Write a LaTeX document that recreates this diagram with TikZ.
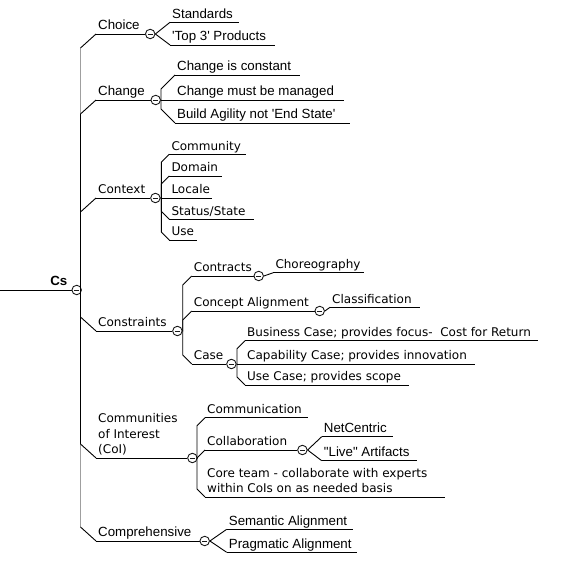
\documentclass[tikz,border=0pt]{standalone}
\usepackage{fontspec}
\usepackage{tikz}
\usetikzlibrary{calc,positioning}
\newfontfamily\verd{DejaVu Sans}[Ligatures=TeXOff]
\newfontfamily\arial{Liberation Sans}[Ligatures=TeXOff]

\begin{document}
\begin{tikzpicture}[x=1pt,y=-1pt,
  link/.style={line width=0.9pt},
  topic/.style={anchor=south west,inner xsep=2pt,inner ysep=0pt,text depth=4pt},
  vd/.style={topic,font=\verd\fontsize{12}{15.5}\selectfont},
  ar/.style={topic,font=\arial\fontsize{13.3}{16}\selectfont},
  toggle/.style={circle,draw=black!90,line width=0.9pt,fill=white,
    minimum size=9.5pt,inner sep=0pt,anchor=west,
    path picture={\draw[line width=0.9pt]
      ([xshift=-2.6pt]path picture bounding box.center) --
      ([xshift=2.6pt]path picture bounding box.center);}}]
  \useasboundingbox (0,0) rectangle (574,569);
  %
  % Root
  \coordinate (start) at (0,290);
  \node[ar,font=\arial\bfseries\fontsize{13.3}{16}\selectfont,
    anchor=south east,inner xsep=4pt] (cs) at (71.5,290) {Cs};
  \draw[link] (start) -- (cs.south east) node[toggle] (cs-t) {};
  %
  % Main branches
  \node[ar] (choice) at (96,34) {Choice};
  \node[ar] (change) at (96,100) {Change};
  \node[vd] (context) at (96,198) {Context};
  \node[vd] (constraints) at (96,331) {Constraints};
  \node[vd,align=left] (coi) at (96,458) {Communities\\of Interest\\(CoI)};
  \node[ar] (comp) at (96,541) {Comprehensive};
  \draw[link] (choice.south west) -- ++(49,0) node[toggle] (choice-t) {};
  \draw[link] (change.south west) -- ++(54.5,0) node[toggle] (change-t) {};
  \draw[link] (context.south west) -- ++(54.2,0) node[toggle] (context-t) {};
  \draw[link] (constraints.south west) -- ++(76.2,0) node[toggle] (constraints-t) {};
  \draw[link] (coi.south west) -- ++(91.2,0) node[toggle] (coi-t) {};
  \draw[link] (comp.south west) -- ++(103.5,0) node[toggle] (comp-t) {};
  %
  % Trunk
  \foreach \b in {choice,change,context}
    \coordinate (\b-j) at ($(\b.south west)+(-15.5,14)$);
  \foreach \b in {constraints,coi,comp}
    \coordinate (\b-j) at ($(\b.south west)+(-15.5,-14)$);
  \draw[link] (change-j) -- (coi-j);
  \draw[link,gray!75] (choice-j) -- (change-j);
  \draw[link,gray!75] (coi-j) -- (comp-j);
  \foreach \b in {choice,change,context,constraints,coi,comp}
    \draw[link] (\b-j) -- (\b.south west);
  %
  % Choice
  \node[ar] (std) at (170,22.3) {Standards};
  \node[ar] (top3) at (170,45) {'Top 3' Products};
  \draw[link] (std.south west) -- ++(69,0);
  \draw[link] (top3.south west) -- ++(105,0);
  \draw[link] (choice-t.east) -- (std.south west);
  \draw[link] (choice-t.east) -- (top3.south west);
  %
  % Change
  \node[ar] (cic) at (175,75) {Change is constant};
  \node[ar] (cmm) at (175,100) {Change must be managed};
  \node[ar] (bao) at (175,123) {Build Agility not 'End State'};
  \draw[link] (cic.south west) -- ++(125,0);
  \draw[link] (cmm.south west) -- ++(169,0);
  \draw[link] (bao.south west) -- ++(175,0);
  \draw[link] (change-t.east) -| ($(cic.south west)+(-14,14)$) -- (cic.south west);
  \draw[link] (change-t.east) -- (cmm.south west);
  \draw[link] (change-t.east) -| ($(bao.south west)+(-14,-14)$) -- (bao.south west);
  %
  % Context
  \node[vd] (community) at (169.3,154.3) {Community};
  \node[vd] (domain) at (169.3,176) {Domain};
  \node[vd] (locale) at (169.3,198) {Locale};
  \node[vd] (status) at (169.3,219.3) {Status/State};
  \node[vd] (use) at (169.3,240) {Use};
  \draw[link] (community.south west) -- ++(76.4,0);
  \draw[link] (domain.south west) -- ++(52.4,0);
  \draw[link] (locale.south west) -- ++(43,0);
  \draw[link] (status.south west) -- ++(84.7,0);
  \draw[link] (use.south west) -- ++(28,0);
  \foreach \c in {community,domain}
    \draw[link] (context-t.east) -| ($(\c.south west)+(-8,8)$) -- (\c.south west);
  \draw[link] (context-t.east) -- (locale.south west);
  \foreach \c in {status,use}
    \draw[link] (context-t.east) -| ($(\c.south west)+(-8,-8)$) -- (\c.south west);
  %
  % Constraints
  \node[vd] (contracts) at (191.7,276) {Contracts};
  \node[vd] (concept) at (191.7,311) {Concept Alignment};
  \node[vd] (case) at (191.7,364) {Case};
  \draw[link] (contracts.south west) -- ++(61.8,0) node[toggle] (contracts-t) {};
  \draw[link] (concept.south west) -- ++(122.8,0) node[toggle] (concept-t) {};
  \draw[link] (case.south west) -- ++(34.5,0) node[toggle] (case-t) {};
  \foreach \c in {contracts,concept}
    \draw[link] (constraints-t.east) -| ($(\c.south west)+(-9,9)$) -- (\c.south west);
  \draw[link] (constraints-t.east) -| ($(case.south west)+(-9,-9)$) -- (case.south west);
  %
  \node[vd] (choreo) at (273.3,272.7) {Choreography};
  \draw[link] (choreo.south west) -- ++(90.7,0);
  \draw[link] (contracts-t.east) -- (choreo.south west);
  \node[vd] (classif) at (330,307.3) {Classification};
  \draw[link] (classif.south west) -- ++(90,0);
  \draw[link] (concept-t.east) -- (classif.south west);
  %
  \node[vd] (business) at (245,340.7) {Business Case; provides focus-\ \ Cost for Return};
  \node[vd] (capability) at (245,364) {Capability Case; provides innovation};
  \node[vd] (usecase) at (245,385) {Use Case; provides scope};
  \draw[link] (business.south west) -- ++(293,0);
  \draw[link] (capability.south west) -- ++(230,0);
  \draw[link] (usecase.south west) -- ++(164,0);
  \draw[link] (case-t.east) -| ($(business.south west)+(-8,8)$) -- (business.south west);
  \draw[link] (case-t.east) -- (capability.south west);
  \draw[link] (case-t.east) -| ($(usecase.south west)+(-8,-8)$) -- (usecase.south west);
  %
  % Communities of Interest
  \node[vd] (communication) at (205,417.7) {Communication};
  \node[vd] (collab) at (205,450) {Collaboration};
  \node[vd,align=left] (core) at (205,497) {Core team - collaborate with experts\\within CoIs on as needed basis};
  \draw[link] (communication.south west) -- ++(102.7,0);
  \draw[link] (collab.south west) -- ++(92.2,0) node[toggle] (collab-t) {};
  \draw[link] (core.south west) -- ++(240,0);
  \foreach \c in {communication,collab}
    \draw[link] (coi-t.east) -| ($(\c.south west)+(-8,8)$) -- (\c.south west);
  \draw[link] (coi-t.east) -| ($(core.south west)+(-8,-8)$) -- (core.south west);
  %
  \node[ar] (netcentric) at (321.7,436.7) {NetCentric};
  \node[ar] (live) at (321.7,460.7) {"Live" Artifacts};
  \draw[link] (netcentric.south west) -- ++(71.3,0);
  \draw[link] (live.south west) -- ++(95,0);
  \draw[link] (collab-t.east) -- (netcentric.south west);
  \draw[link] (collab-t.east) -- (live.south west);
  %
  % Comprehensive
  \node[ar] (semantic) at (226.7,529.3) {Semantic Alignment};
  \node[ar] (pragmatic) at (226.7,552.3) {Pragmatic Alignment};
  \draw[link] (semantic.south west) -- ++(126,0);
  \draw[link] (pragmatic.south west) -- ++(130.6,0);
  \draw[link] (comp-t.east) -- (semantic.south west);
  \draw[link] (comp-t.east) -- (pragmatic.south west);
  %
\end{tikzpicture}
\end{document}
